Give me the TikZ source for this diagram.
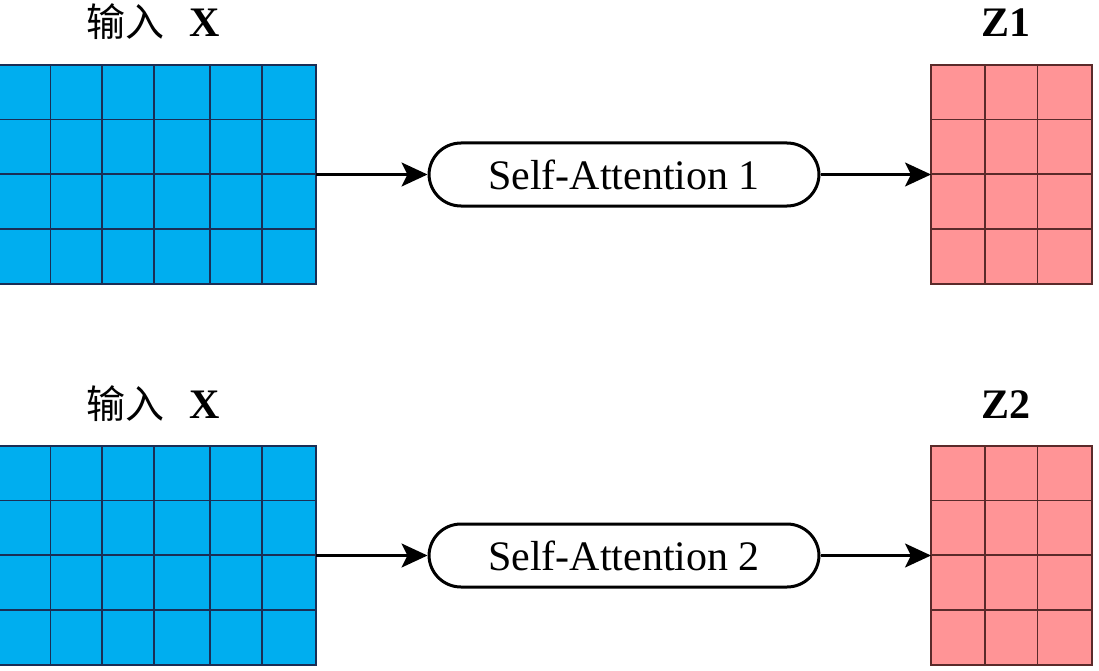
\documentclass[tikz,border=0pt]{standalone}
\usepackage{fontspec}
\setmainfont{Liberation Serif}
\newfontfamily\cjk{Noto Sans CJK SC}
\usetikzlibrary{arrows.meta}
\definecolor{bluefill}{HTML}{00AEEF}
\definecolor{blueline}{HTML}{1A2E55}
\definecolor{pinkfill}{HTML}{FF9496}
\definecolor{pinkline}{HTML}{5A2A2A}
\tikzset{
  bluegrid/.style={draw=blueline, fill=bluefill, line width=1.4pt, inner sep=0pt, outer sep=0pt, anchor=north west},
  pinkgrid/.style={draw=pinkline, fill=pinkfill, line width=1.4pt, inner sep=0pt, outer sep=0pt, anchor=north west},
  attbox/.style={draw=black, line width=3pt, rounded corners=32pt, minimum width=390pt, minimum height=63pt, inner sep=0pt, font=\fontsize{42}{46}\selectfont},
  arr/.style={-{Stealth[length=26pt,width=24pt,inset=6pt]}, line width=2.4pt},
  lbl/.style={inner sep=0pt, font=\fontsize{42}{46}\selectfont\bfseries},
}
\begin{document}
\begin{tikzpicture}[x=1pt,y=-1pt]
\useasboundingbox (0,0) rectangle (1099,671);
\foreach \row/\yt/\n in {1/65/1, 2/446/2}{
  % blue grid
  \node[bluegrid, minimum width=318pt, minimum height=219pt] (x\n) at (-2,\yt) {};
  \foreach \xx in {50.7,102,154,210,262}{
    \draw[blueline, line width=1.4pt] (\xx,\yt) -- (\xx,\yt+219);
  }
  \foreach \dy in {54.5,109,164}{
    \draw[blueline, line width=1.4pt] (-2,\yt+\dy) -- (316,\yt+\dy);
  }
  % pink grid
  \node[pinkgrid, minimum width=161pt, minimum height=219pt] (z\n) at (931,\yt) {};
  \foreach \xx in {985,1037.5}{
    \draw[pinkline, line width=1.4pt] (\xx,\yt) -- (\xx,\yt+219);
  }
  \foreach \dy in {54.5,109,164}{
    \draw[pinkline, line width=1.4pt] (931,\yt+\dy) -- (1092,\yt+\dy);
  }
  % labels
  \node[lbl, anchor=base west] (lx\n) at (86,\yt-28) {{\cjk\mdseries\fontsize{39}{42}\selectfont 输入}\hspace{0.6em}X};
  \node[lbl, anchor=base] (lz\n) at (1006,\yt-28) {Z\n};
  % attention
  \node[attbox] (sa\n) at (624,\yt+109.5) {Self-Attention \n};
  \draw[arr] (x\n.east) -- (x\n.east -| sa\n.west);
  \draw[arr] (sa\n.east) -- (sa\n.east -| z\n.west);
}
\end{tikzpicture}
\end{document}
